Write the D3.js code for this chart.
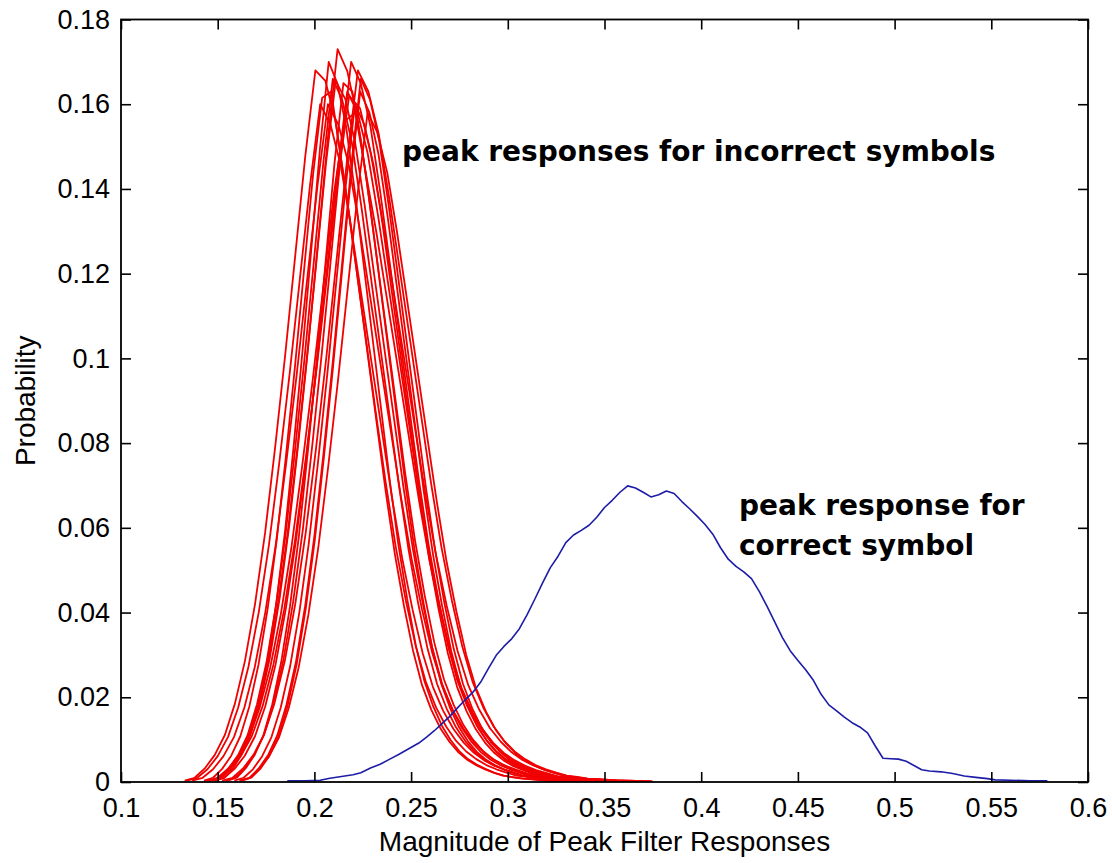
<!DOCTYPE html>
<html>
<head>
<meta charset="utf-8">
<script src="https://cdn.jsdelivr.net/npm/d3@7"></script>
<style>
  html, body { margin: 0; padding: 0; background: #fff; }
  svg { display: block; }
</style>
</head>
<body>
<svg id="chart" width="1112" height="863"></svg>
<script>
// Axis ticks and labels
const xTicks = [0.1, 0.15, 0.2, 0.25, 0.3, 0.35, 0.4, 0.45, 0.5, 0.55, 0.6];
const xTickLabels = ["0.1", "0.15", "0.2", "0.25", "0.3", "0.35", "0.4", "0.45", "0.5", "0.55", "0.6"];
const yTicks = [0, 0.02, 0.04, 0.06, 0.08, 0.1, 0.12, 0.14, 0.16, 0.18];
const yTickLabels = ["0", "0.02", "0.04", "0.06", "0.08", "0.1", "0.12", "0.14", "0.16", "0.18"];
const xTitle = "Magnitude of Peak Filter Responses";
const yTitle = "Probability";
const noteIncorrect = ["peak responses for incorrect symbols"];
const noteCorrect = ["peak response for", "correct symbol"];

// Peak response for the correct symbol (histogram bin centres and probabilities)
const blueX = [0.186, 0.195, 0.203, 0.208, 0.214, 0.220, 0.224, 0.229, 0.234, 0.239,
  0.244, 0.249, 0.254, 0.258, 0.262, 0.266, 0.270, 0.274, 0.278, 0.282,
  0.286, 0.290, 0.294, 0.298, 0.302, 0.306, 0.310, 0.314, 0.318, 0.322,
  0.326, 0.330, 0.334, 0.338, 0.342, 0.346, 0.350, 0.354, 0.358, 0.362,
  0.366, 0.370, 0.374, 0.378, 0.382, 0.386, 0.390, 0.394, 0.398, 0.402,
  0.406, 0.410, 0.414, 0.418, 0.422, 0.426, 0.430, 0.434, 0.438, 0.442,
  0.446, 0.450, 0.454, 0.458, 0.462, 0.466, 0.470, 0.474, 0.478, 0.482,
  0.486, 0.490, 0.494, 0.498, 0.502, 0.506, 0.510, 0.514, 0.518, 0.524,
  0.530, 0.536, 0.542, 0.548, 0.552, 0.560, 0.570, 0.579];
const blueY = [0.0003, 0.0003, 0.0004, 0.0009, 0.0013, 0.0017, 0.0022, 0.0033, 0.0042, 0.0054,
  0.0066, 0.0079, 0.0092, 0.0106, 0.0121, 0.0138, 0.0155, 0.0175, 0.0194, 0.0212,
  0.0236, 0.0268, 0.0299, 0.0320, 0.0338, 0.0362, 0.0395, 0.0432, 0.0470, 0.0506,
  0.0533, 0.0565, 0.0583, 0.0594, 0.0606, 0.0625, 0.0648, 0.0665, 0.0684, 0.0699,
  0.0694, 0.0684, 0.0673, 0.0678, 0.0687, 0.0681, 0.0662, 0.0645, 0.0627, 0.0608,
  0.0585, 0.0553, 0.0526, 0.0509, 0.0496, 0.0480, 0.0450, 0.0415, 0.0378, 0.0341,
  0.0310, 0.0287, 0.0265, 0.0240, 0.0207, 0.0182, 0.0168, 0.0153, 0.0140, 0.0130,
  0.0116, 0.0085, 0.0056, 0.0055, 0.0054, 0.0049, 0.0039, 0.0029, 0.0026, 0.0024,
  0.0020, 0.0014, 0.0011, 0.0008, 0.0005, 0.0004, 0.0003, 0.0003];

// Peak responses for the incorrect symbols: first bin centre, bin width, probabilities
const redStart = [0.1329, 0.1429, 0.1368, 0.1458, 0.1470, 0.1441, 0.1552, 0.1481, 0.1540,
  0.1586, 0.1523, 0.1626, 0.1612, 0.1489, 0.1452, 0.1460, 0.1616, 0.1341];
const redBinWidth = [0.0052, 0.0047, 0.0054, 0.0049, 0.0050, 0.0055, 0.0046, 0.0053, 0.0050,
  0.0048, 0.0054, 0.0047, 0.0051, 0.0045, 0.0056, 0.0050, 0.0048, 0.0053];
const redCurves = [
  [0.0003,0.0010,0.0032,0.0064,0.0111,0.0185,0.0286,0.0420,0.0588,0.0790,0.1008,0.1243,0.1478,0.1680,0.1655,0.1560,0.1400,0.1225,0.1050,0.0874,0.0706,0.0554,0.0428,0.0319,0.0235,0.0176,0.0131,0.0097,0.0072,0.0054,0.0040,0.0030,0.0022,0.0015,0.0012,0.0008,0.0007,0.0005,0.0003,0.0003,0.0002,0.0002],
  [0.0003,0.0010,0.0031,0.0062,0.0108,0.0179,0.0277,0.0408,0.0571,0.0766,0.0978,0.1206,0.1434,0.1615,0.1630,0.1483,0.1337,0.1174,0.1011,0.0848,0.0685,0.0538,0.0416,0.0310,0.0228,0.0171,0.0127,0.0095,0.0070,0.0052,0.0039,0.0029,0.0021,0.0015,0.0011,0.0008,0.0007,0.0005,0.0003,0.0003,0.0002,0.0002],
  [0.0003,0.0010,0.0030,0.0061,0.0106,0.0176,0.0272,0.0400,0.0560,0.0752,0.0960,0.1184,0.1408,0.1600,0.1552,0.1456,0.1312,0.1152,0.0992,0.0832,0.0672,0.0528,0.0408,0.0304,0.0224,0.0168,0.0125,0.0093,0.0069,0.0051,0.0038,0.0029,0.0021,0.0014,0.0011,0.0008,0.0006,0.0005,0.0003,0.0003,0.0002,0.0002],
  [0.0003,0.0010,0.0032,0.0063,0.0110,0.0183,0.0282,0.0415,0.0581,0.0780,0.0996,0.1228,0.1461,0.1660,0.1610,0.1511,0.1361,0.1195,0.1029,0.0863,0.0697,0.0548,0.0423,0.0315,0.0232,0.0174,0.0129,0.0096,0.0071,0.0053,0.0040,0.0030,0.0022,0.0015,0.0012,0.0008,0.0007,0.0005,0.0003,0.0003,0.0002,0.0002],
  [0.0003,0.0010,0.0033,0.0066,0.0114,0.0190,0.0294,0.0433,0.0606,0.0813,0.1038,0.1280,0.1522,0.1730,0.1678,0.1574,0.1419,0.1246,0.1073,0.0900,0.0727,0.0571,0.0441,0.0329,0.0242,0.0182,0.0135,0.0100,0.0074,0.0055,0.0042,0.0031,0.0022,0.0016,0.0012,0.0009,0.0007,0.0005,0.0003,0.0003,0.0002,0.0002],
  [0.0003,0.0009,0.0030,0.0060,0.0104,0.0174,0.0269,0.0395,0.0553,0.0743,0.0948,0.1169,0.1390,0.1560,0.1580,0.1438,0.1296,0.1138,0.0980,0.0822,0.0664,0.0521,0.0403,0.0300,0.0221,0.0166,0.0123,0.0092,0.0068,0.0051,0.0038,0.0028,0.0021,0.0014,0.0011,0.0008,0.0006,0.0005,0.0003,0.0003,0.0002,0.0002],
  [0.0003,0.0010,0.0032,0.0063,0.0110,0.0183,0.0282,0.0415,0.0581,0.0780,0.0996,0.1228,0.1461,0.1650,0.1630,0.1511,0.1361,0.1195,0.1029,0.0863,0.0697,0.0548,0.0423,0.0315,0.0232,0.0174,0.0129,0.0096,0.0071,0.0053,0.0040,0.0030,0.0022,0.0015,0.0012,0.0008,0.0007,0.0005,0.0003,0.0003,0.0002,0.0002],
  [0.0003,0.0010,0.0031,0.0062,0.0108,0.0179,0.0277,0.0408,0.0571,0.0766,0.0978,0.1206,0.1434,0.1630,0.1581,0.1483,0.1337,0.1174,0.1011,0.0848,0.0685,0.0538,0.0416,0.0310,0.0228,0.0171,0.0127,0.0095,0.0070,0.0052,0.0039,0.0029,0.0021,0.0015,0.0011,0.0008,0.0007,0.0005,0.0003,0.0003,0.0002,0.0002],
  [0.0003,0.0010,0.0032,0.0065,0.0112,0.0187,0.0289,0.0425,0.0595,0.0799,0.1020,0.1258,0.1496,0.1700,0.1649,0.1547,0.1394,0.1224,0.1054,0.0884,0.0714,0.0561,0.0434,0.0323,0.0238,0.0179,0.0133,0.0099,0.0073,0.0054,0.0041,0.0031,0.0022,0.0015,0.0012,0.0009,0.0007,0.0005,0.0003,0.0003,0.0002,0.0002],
  [0.0003,0.0010,0.0030,0.0061,0.0106,0.0176,0.0272,0.0400,0.0560,0.0752,0.0960,0.1184,0.1408,0.1600,0.1552,0.1456,0.1312,0.1152,0.0992,0.0832,0.0672,0.0528,0.0408,0.0304,0.0224,0.0168,0.0125,0.0093,0.0069,0.0051,0.0038,0.0029,0.0021,0.0014,0.0011,0.0008,0.0006,0.0005,0.0003,0.0003,0.0002,0.0002],
  [0.0003,0.0010,0.0032,0.0064,0.0111,0.0185,0.0286,0.0420,0.0588,0.0790,0.1008,0.1243,0.1478,0.1680,0.1630,0.1529,0.1378,0.1210,0.1042,0.0874,0.0706,0.0554,0.0428,0.0319,0.0235,0.0176,0.0131,0.0097,0.0072,0.0054,0.0040,0.0030,0.0022,0.0015,0.0012,0.0008,0.0007,0.0005,0.0003,0.0003,0.0002,0.0002],
  [0.0003,0.0010,0.0031,0.0062,0.0108,0.0179,0.0277,0.0408,0.0571,0.0766,0.0978,0.1206,0.1434,0.1630,0.1581,0.1483,0.1337,0.1174,0.1011,0.0848,0.0685,0.0538,0.0416,0.0310,0.0228,0.0171,0.0127,0.0095,0.0070,0.0052,0.0039,0.0029,0.0021,0.0015,0.0011,0.0008,0.0007,0.0005,0.0003,0.0003,0.0002,0.0002],
  [0.0003,0.0009,0.0030,0.0060,0.0104,0.0174,0.0269,0.0395,0.0553,0.0743,0.0948,0.1169,0.1390,0.1580,0.1533,0.1438,0.1296,0.1138,0.0980,0.0822,0.0664,0.0521,0.0403,0.0300,0.0221,0.0166,0.0123,0.0092,0.0068,0.0051,0.0038,0.0028,0.0021,0.0014,0.0011,0.0008,0.0006,0.0005,0.0003,0.0003,0.0002,0.0002],
  [0.0003,0.0010,0.0032,0.0065,0.0112,0.0187,0.0289,0.0425,0.0595,0.0799,0.1020,0.1258,0.1496,0.1700,0.1649,0.1547,0.1394,0.1224,0.1054,0.0884,0.0714,0.0561,0.0434,0.0323,0.0238,0.0179,0.0133,0.0099,0.0073,0.0054,0.0041,0.0031,0.0022,0.0015,0.0012,0.0009,0.0007,0.0005,0.0003,0.0003,0.0002,0.0002],
  [0.0003,0.0010,0.0031,0.0062,0.0108,0.0179,0.0277,0.0408,0.0571,0.0766,0.0978,0.1206,0.1434,0.1620,0.1590,0.1483,0.1337,0.1174,0.1011,0.0848,0.0685,0.0538,0.0416,0.0310,0.0228,0.0171,0.0127,0.0095,0.0070,0.0052,0.0039,0.0029,0.0021,0.0015,0.0011,0.0008,0.0007,0.0005,0.0003,0.0003,0.0002,0.0002],
  [0.0003,0.0010,0.0032,0.0063,0.0110,0.0183,0.0282,0.0415,0.0581,0.0780,0.0996,0.1228,0.1461,0.1655,0.1612,0.1511,0.1361,0.1195,0.1029,0.0863,0.0697,0.0548,0.0423,0.0315,0.0232,0.0174,0.0129,0.0096,0.0071,0.0053,0.0040,0.0030,0.0022,0.0015,0.0012,0.0008,0.0007,0.0005,0.0003,0.0003,0.0002,0.0002],
  [0.0003,0.0010,0.0032,0.0063,0.0110,0.0183,0.0282,0.0415,0.0581,0.0780,0.0996,0.1228,0.1461,0.1660,0.1610,0.1511,0.1361,0.1195,0.1029,0.0863,0.0697,0.0548,0.0423,0.0315,0.0232,0.0174,0.0129,0.0096,0.0071,0.0053,0.0040,0.0030,0.0022,0.0015,0.0012,0.0008,0.0007,0.0005,0.0003,0.0003,0.0002,0.0002],
  [0.0003,0.0010,0.0030,0.0061,0.0106,0.0176,0.0272,0.0400,0.0560,0.0752,0.0960,0.1184,0.1408,0.1600,0.1552,0.1456,0.1312,0.1152,0.0992,0.0832,0.0672,0.0528,0.0408,0.0304,0.0224,0.0168,0.0125,0.0093,0.0069,0.0051,0.0038,0.0029,0.0021,0.0014,0.0011,0.0008,0.0006,0.0005,0.0003,0.0003,0.0002,0.0002]
];

const W = 1112, H = 863;
const plot = { left: 121, right: 1088, top: 19.5, bottom: 782 };
const tickFont = "'Liberation Sans', Arial, sans-serif";
const noteFont = "'DejaVu Sans', Verdana, sans-serif";

const svg = d3.select("#chart");
svg.append("rect").attr("width", W).attr("height", H).attr("fill", "#fff");

const x = d3.scaleLinear().domain([0.1, 0.6]).range([plot.left, plot.right]);
const y = d3.scaleLinear().domain([0, 0.18]).range([plot.bottom, plot.top]);

svg.append("clipPath").attr("id", "plot-clip")
  .append("rect")
  .attr("x", plot.left).attr("y", plot.top)
  .attr("width", plot.right - plot.left).attr("height", plot.bottom - plot.top);

const line = d3.line().x(d => x(d[0])).y(d => y(d[1]));
const curves = svg.append("g").attr("clip-path", "url(#plot-clip)");

// incorrect-symbol distributions
redCurves.forEach((vals, k) => {
  const pts = vals.map((v, i) => [redStart[k] + i * redBinWidth[k], v]);
  curves.append("path")
    .attr("d", line(pts))
    .attr("fill", "none")
    .attr("stroke", "#f00000")
    .attr("stroke-width", 1.8)
    .attr("stroke-linejoin", "round");
});

// correct-symbol distribution
curves.append("path")
  .attr("d", line(blueX.map((v, i) => [v, blueY[i]])))
  .attr("fill", "none")
  .attr("stroke", "#1c1ca8")
  .attr("stroke-width", 1.6)
  .attr("stroke-linejoin", "round");

// axes with inward ticks on all four sides
const tickLen = 10;
const styleAxis = g => {
  g.select(".domain").remove();
  g.selectAll(".tick line").attr("stroke", "#000").attr("stroke-width", 1.6);
  g.selectAll(".tick text")
    .attr("fill", "#000")
    .style("font-family", tickFont)
    .style("font-size", "27px");
};

svg.append("g")
  .attr("transform", `translate(0,${plot.bottom})`)
  .call(d3.axisBottom(x).tickValues(xTicks).tickFormat((d, i) => xTickLabels[i])
    .tickSize(-tickLen).tickPadding(16))
  .call(styleAxis);

svg.append("g")
  .attr("transform", `translate(0,${plot.top})`)
  .call(d3.axisTop(x).tickValues(xTicks).tickFormat(() => "").tickSize(-tickLen))
  .call(styleAxis);

svg.append("g")
  .attr("transform", `translate(${plot.left},0)`)
  .call(d3.axisLeft(y).tickValues(yTicks).tickFormat((d, i) => yTickLabels[i])
    .tickSize(-tickLen).tickPadding(11))
  .call(styleAxis);

svg.append("g")
  .attr("transform", `translate(${plot.right},0)`)
  .call(d3.axisRight(y).tickValues(yTicks).tickFormat(() => "").tickSize(-tickLen))
  .call(styleAxis);

// box
svg.append("rect")
  .attr("x", plot.left).attr("y", plot.top)
  .attr("width", plot.right - plot.left).attr("height", plot.bottom - plot.top)
  .attr("fill", "none").attr("stroke", "#000").attr("stroke-width", 1.8);

// axis titles
svg.append("text")
  .attr("x", (plot.left + plot.right) / 2)
  .attr("y", 851)
  .attr("text-anchor", "middle")
  .style("font-family", tickFont).style("font-size", "28px")
  .text(xTitle);

svg.append("text")
  .attr("transform", `translate(35,${(plot.top + plot.bottom) / 2}) rotate(-90)`)
  .attr("text-anchor", "middle")
  .style("font-family", tickFont).style("font-size", "28px")
  .text(yTitle);

// annotations
const note = (lines, x0, y0) => {
  lines.forEach((t, i) => {
    svg.append("text")
      .attr("x", x0).attr("y", y0 + i * 40)
      .style("font-family", noteFont).style("font-size", "28px").style("font-weight", "bold")
      .attr("fill", "#000")
      .text(t);
  });
};
note(noteIncorrect, 402, 161);
note(noteCorrect, 739, 515);
</script>
</body>
</html>
